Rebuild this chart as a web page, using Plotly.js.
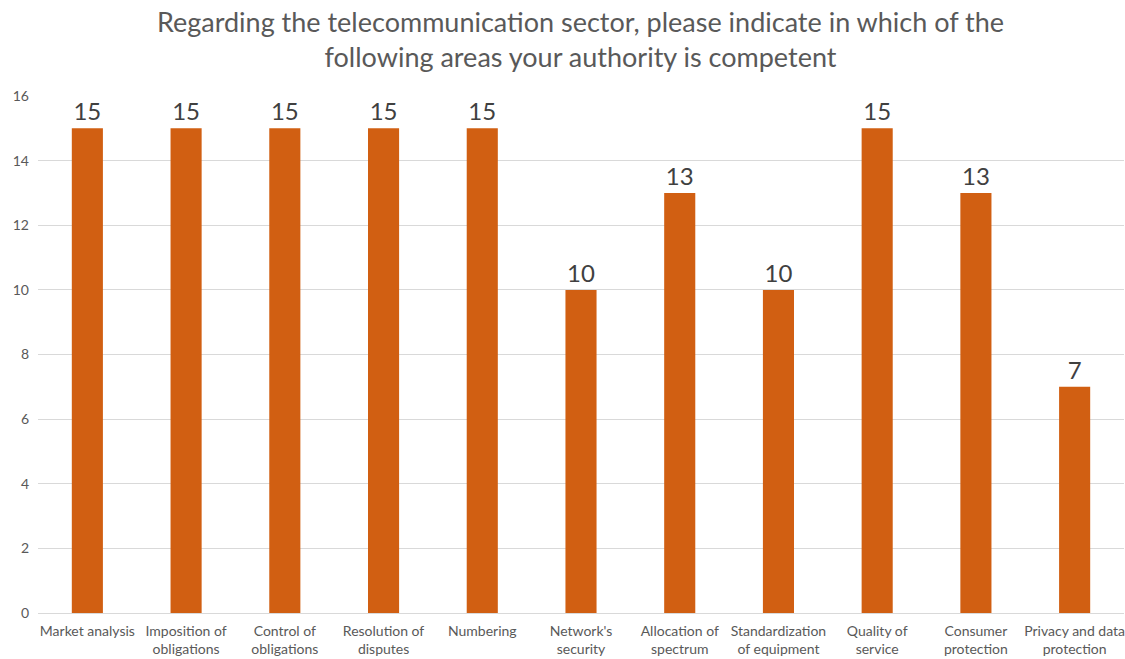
<!DOCTYPE html>
<html><head><meta charset="utf-8">
<script src="https://cdn.plot.ly/plotly-3.0.1.min.js"></script>
<style>html,body{margin:0;padding:0;background:#fff}#chart{width:1125px;height:659px}</style>
</head><body><div id="chart"></div>
<script>
const categories = ["Market analysis", "Imposition of<br>obligations", "Control of<br>obligations", "Resolution of<br>disputes", "Numbering", "Network's<br>security", "Allocation of<br>spectrum", "Standardization<br>of equipment", "Quality of<br>service", "Consumer<br>protection", "Privacy and data<br>protection"];
const values = [15, 15, 15, 15, 15, 10, 13, 10, 15, 13, 7];
const yTicks = [0, 2, 4, 6, 8, 10, 12, 14, 16];
const titleText = "Regarding the telecommunication sector, please indicate in which of the<br>following areas your authority is competent";

const font = "Lato, 'Open Sans', sans-serif";
Plotly.newPlot('chart', [{
  type: 'bar',
  x: categories,
  y: values,
  text: values.map(String),
  textposition: 'outside',
  textfont: {family: font, size: 24, color: '#404040'},
  marker: {color: '#D15F12'},
  cliponaxis: false,
  hoverinfo: 'none'
}], {
  width: 1125, height: 659,
  margin: {l: 38, r: 1, t: 96, b: 46},
  paper_bgcolor: '#fff', plot_bgcolor: '#fff',
  bargap: 0.685,
  showlegend: false,
  title: {text: titleText, font: {family: font, size: 27, color: '#595959'}, x: 0.516, xanchor: 'center', yref: 'container', y: 0.951, yanchor: 'middle'},
  xaxis: {tickfont: {family: font, size: 14, color: '#595959'}, showline: true, linecolor: '#D9D9D9', ticks: '', fixedrange: true, automargin: false, ticklabelstandoff: 5},
  yaxis: {range: [0, 16], tickvals: yTicks, ticktext: yTicks.map(String), tickfont: {family: font, size: 14, color: '#595959'}, gridcolor: '#D9D9D9', zeroline: false, showline: false, ticks: '', automargin: false, ticklabelstandoff: 8}
}, {displayModeBar: false, staticPlot: true});
</script></body></html>
